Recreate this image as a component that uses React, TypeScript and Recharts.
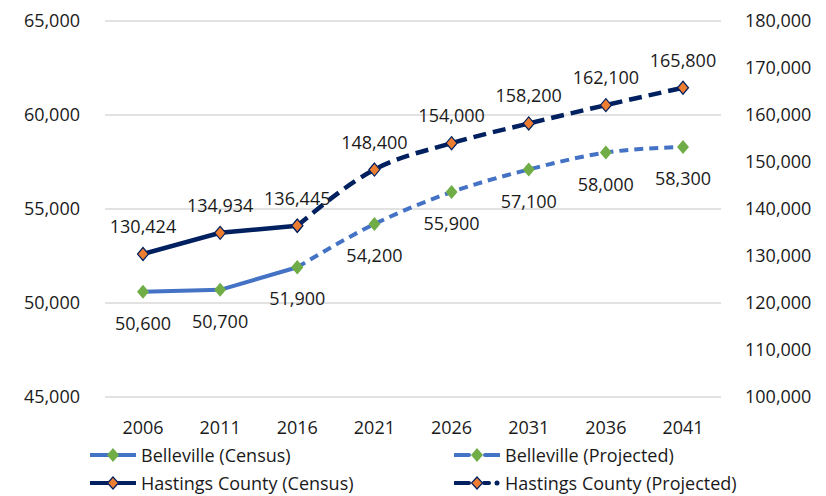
import React from "react";
import { LineChart, Line, XAxis, YAxis, CartesianGrid, LabelList } from "recharts";

document.body.style.margin = "0";

const years = ["2006", "2011", "2016", "2021", "2026", "2031", "2036", "2041"];
const bellevilleCensus = [50600, 50700, 51900, null, null, null, null, null];
const bellevilleProjected = [null, null, 51900, 54200, 55900, 57100, 58000, 58300];
const hastingsCensus = [130424, 134934, 136445, null, null, null, null, null];
const hastingsProjected = [null, null, 136445, 148400, 154000, 158200, 162100, 165800];
const leftTicks = [45000, 50000, 55000, 60000, 65000];
const rightTicks = [100000, 110000, 120000, 130000, 140000, 150000, 160000, 170000, 180000];

const data = years.map((year, i) => ({
    year,
    bCensus: bellevilleCensus[i],
    bProj: bellevilleProjected[i],
    hCensus: hastingsCensus[i],
    hProj: hastingsProjected[i],
}));

const FONT = "'Open Sans', sans-serif";
const TEXT = "#1a1a1a";
const LIGHT_BLUE = "#4472C4";
const NAVY = "#002060";
const GREEN = "#70AD47";
const ORANGE = "#ED7D31";

const fmt = (v: number) => v.toLocaleString("en-US");

const greenDiamond = (props: any) => {
    const { cx, cy, index } = props;
    if (cx == null || cy == null) return <g key={`g-${index}`} />;
    return <path key={`g-${index}`} d={`M${cx},${cy - 7} L${cx + 6},${cy} L${cx},${cy + 7} L${cx - 6},${cy} Z`} fill={GREEN} />;
};

const orangeDiamond = (props: any) => {
    const { cx, cy, index } = props;
    if (cx == null || cy == null) return <g key={`o-${index}`} />;
    return (
        <path
            key={`o-${index}`}
            d={`M${cx},${cy - 6.5} L${cx + 5.5},${cy} L${cx},${cy + 6.5} L${cx - 5.5},${cy} Z`}
            fill={ORANGE}
            stroke={NAVY}
            strokeWidth={1.2}
        />
    );
};

// labels: Belleville below the point, Hastings above
const makeLabel = (dy: number, skip: number[]) => (props: any) => {
    const { x, y, value, index } = props;
    if (value == null || skip.includes(index)) return null;
    return (
        <text x={x} y={y + dy} textAnchor="middle" dominantBaseline="central" fontFamily={FONT} fontSize={18} fill={TEXT}>
            {fmt(value)}
        </text>
    );
};

const tickStyle = { fontFamily: FONT, fontSize: 18, fill: TEXT };

function LegendSample({ dashed, dot, marker }: { dashed: boolean; dot?: boolean; marker: "green" | "orange" }) {
    const color = marker === "green" ? LIGHT_BLUE : NAVY;
    return (
        <svg width={46} height={16} style={{ display: "block" }}>
            {dashed ? (
                <>
                    <line x1={1} y1={8} x2={15} y2={8} stroke={color} strokeWidth={4} strokeLinecap="round" />
                    {dot ? (
                        <>
                            <line x1={30} y1={8} x2={35} y2={8} stroke={color} strokeWidth={4} strokeLinecap="round" />
                            <circle cx={43} cy={8} r={2.5} fill={color} />
                        </>
                    ) : (
                        <line x1={31} y1={8} x2={45} y2={8} stroke={color} strokeWidth={4} strokeLinecap="round" />
                    )}
                </>
            ) : (
                <line x1={0} y1={8} x2={46} y2={8} stroke={color} strokeWidth={4} />
            )}
            {marker === "green" ? (
                <path d="M23,1 L29,8 L23,15 L17,8 Z" fill={GREEN} />
            ) : (
                <path d="M23,2 L28.5,8 L23,14 L17.5,8 Z" fill={ORANGE} stroke={NAVY} strokeWidth={1.2} />
            )}
        </svg>
    );
}

const legendItems = [
    { label: "Belleville (Census)", left: 90, top: 455, dashed: false, marker: "green" as const },
    { label: "Belleville (Projected)", left: 454, top: 455, dashed: true, marker: "green" as const },
    { label: "Hastings County (Census)", left: 90, top: 483, dashed: false, marker: "orange" as const },
    { label: "Hastings County (Projected)", left: 454, top: 483, dashed: true, dot: true, marker: "orange" as const },
];

export default function App() {
    return (
        <div style={{ position: "relative", width: 826, height: 496, background: "#fff" }}>
            <LineChart width={826} height={496} data={data} margin={{ top: 21, right: 0, left: 0, bottom: 69 }}>
                <CartesianGrid vertical={false} stroke="#d9d9d9" strokeWidth={1.5} yAxisId="left" />
                <XAxis
                    dataKey="year"
                    axisLine={false}
                    tickLine={false}
                    tickSize={0}
                    tickMargin={24}
                    padding={{ left: 38, right: 38 }}
                    tick={tickStyle}
                />
                <YAxis
                    yAxisId="left"
                    orientation="left"
                    width={105}
                    domain={[45000, 65000]}
                    ticks={leftTicks}
                    tickFormatter={fmt}
                    axisLine={false}
                    tickLine={false}
                    tickSize={0}
                    tickMargin={25}
                    tick={tickStyle}
                />
                <YAxis
                    yAxisId="right"
                    orientation="right"
                    width={105}
                    domain={[100000, 180000]}
                    ticks={rightTicks}
                    tickFormatter={fmt}
                    axisLine={false}
                    tickLine={false}
                    tickSize={0}
                    tickMargin={24}
                    tick={tickStyle}
                />
                <Line yAxisId="left" dataKey="bProj" type="monotone" stroke={LIGHT_BLUE} strokeWidth={4} strokeDasharray="9 6" dot={greenDiamond} isAnimationActive={false}>
                    <LabelList dataKey="bProj" content={makeLabel(31, [2])} />
                </Line>
                <Line yAxisId="left" dataKey="bCensus" type="linear" stroke={LIGHT_BLUE} strokeWidth={4} dot={greenDiamond} isAnimationActive={false}>
                    <LabelList dataKey="bCensus" content={makeLabel(31, [])} />
                </Line>
                <Line yAxisId="right" dataKey="hProj" type="monotone" stroke={NAVY} strokeWidth={4.5} strokeDasharray="13 7" dot={orangeDiamond} isAnimationActive={false}>
                    <LabelList dataKey="hProj" content={makeLabel(-28, [2])} />
                </Line>
                <Line yAxisId="right" dataKey="hCensus" type="linear" stroke={NAVY} strokeWidth={4.5} dot={orangeDiamond} isAnimationActive={false}>
                    <LabelList dataKey="hCensus" content={makeLabel(-28, [])} />
                </Line>
            </LineChart>
            {legendItems.map((it) => (
                <div
                    key={it.label}
                    style={{
                        position: "absolute",
                        left: it.left,
                        top: it.top - 12,
                        height: 24,
                        display: "flex",
                        alignItems: "center",
                        gap: 5,
                        fontFamily: FONT,
                        fontSize: 18,
                        color: TEXT,
                        whiteSpace: "nowrap",
                    }}
                >
                    <LegendSample dashed={it.dashed} dot={(it as any).dot} marker={it.marker} />
                    <span>{it.label}</span>
                </div>
            ))}
        </div>
    );
}
